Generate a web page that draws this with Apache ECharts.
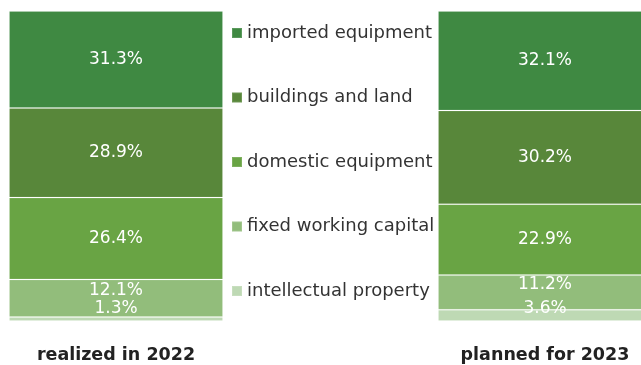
<!DOCTYPE html>
<html>
<head>
<meta charset="utf-8">
<script src="https://cdn.jsdelivr.net/npm/echarts@6/dist/echarts.min.js"></script>
<style>
  html, body { margin: 0; padding: 0; background: #fff; }
  #chart { width: 641px; height: 365px; }
</style>
</head>
<body>
<div id="chart"></div>
<script>
// Investment structure, share of total (%)
const periods = ['realized in 2022', 'planned for 2023'];
const categoryNames = [
  'imported equipment',
  'buildings and land',
  'domestic equipment',
  'fixed working capital',
  'intellectual property'
];
const importedEquipment = [31.3, 32.1];
const buildingsAndLand = [28.9, 30.2];
const domesticEquipment = [26.4, 22.9];
const fixedWorkingCapital = [12.1, 11.2];
const intellectualProperty = [1.3, 3.6];

const colors = ['#3f8942', '#58873a', '#69a444', '#92bd7b', '#bed9b4'];
const font = '"DejaVu Sans", sans-serif';

// stacked from the bottom up, legend listed from the top down
const stackOrder = [
  [categoryNames[4], intellectualProperty, colors[4]],
  [categoryNames[3], fixedWorkingCapital, colors[3]],
  [categoryNames[2], domesticEquipment, colors[2]],
  [categoryNames[1], buildingsAndLand, colors[1]],
  [categoryNames[0], importedEquipment, colors[0]]
];

// thin segments near the base get their labels lifted clear of the edge
function liftedLabel(dy, fromBottom) {
  return p => ({
    x: p.rect.x + p.rect.width / 2,
    y: fromBottom ? p.rect.y + p.rect.height - dy : p.rect.y + p.rect.height / 2 - dy,
    align: 'center',
    verticalAlign: 'middle'
  });
}

const series = stackOrder.map(([name, values, color], i) => ({
  name: name,
  type: 'bar',
  stack: 'total',
  barWidth: 214,
  clip: false,
  data: values,
  itemStyle: { color: color, borderColor: 'rgba(255,255,255,0.14)', borderWidth: 1 },
  label: {
    show: true,
    position: 'inside',
    color: '#fff',
    fontFamily: font,
    fontSize: 17,
    formatter: p => p.value.toFixed(1) + '%'
  },
  labelLayout: i === 0 ? liftedLabel(12, true) : i === 1 ? liftedLabel(8, false) : undefined
}));

const chart = echarts.init(document.getElementById('chart'), null, { renderer: 'canvas' });
chart.setOption({
  animation: false,
  grid: { left: 116, right: 96, top: 11, bottom: 44, containLabel: false },
  legend: {
    orient: 'vertical',
    left: 226,
    top: 18,
    data: categoryNames,
    icon: 'rect',
    itemWidth: 10,
    itemHeight: 10,
    itemGap: 44.5,
    itemTextGap: 5,
    selectedMode: false,
    textStyle: { color: '#333', fontFamily: font, fontSize: 18, lineHeight: 20 }
  },
  xAxis: {
    type: 'category',
    data: periods,
    boundaryGap: false,
    axisLine: { show: false },
    axisTick: { show: false },
    splitLine: { show: false },
    axisLabel: { color: '#222', fontFamily: font, fontWeight: 'bold', fontSize: 17.5, margin: 25 }
  },
  yAxis: { type: 'value', min: 0, max: 100, show: false },
  series: series
});
</script>
</body>
</html>
